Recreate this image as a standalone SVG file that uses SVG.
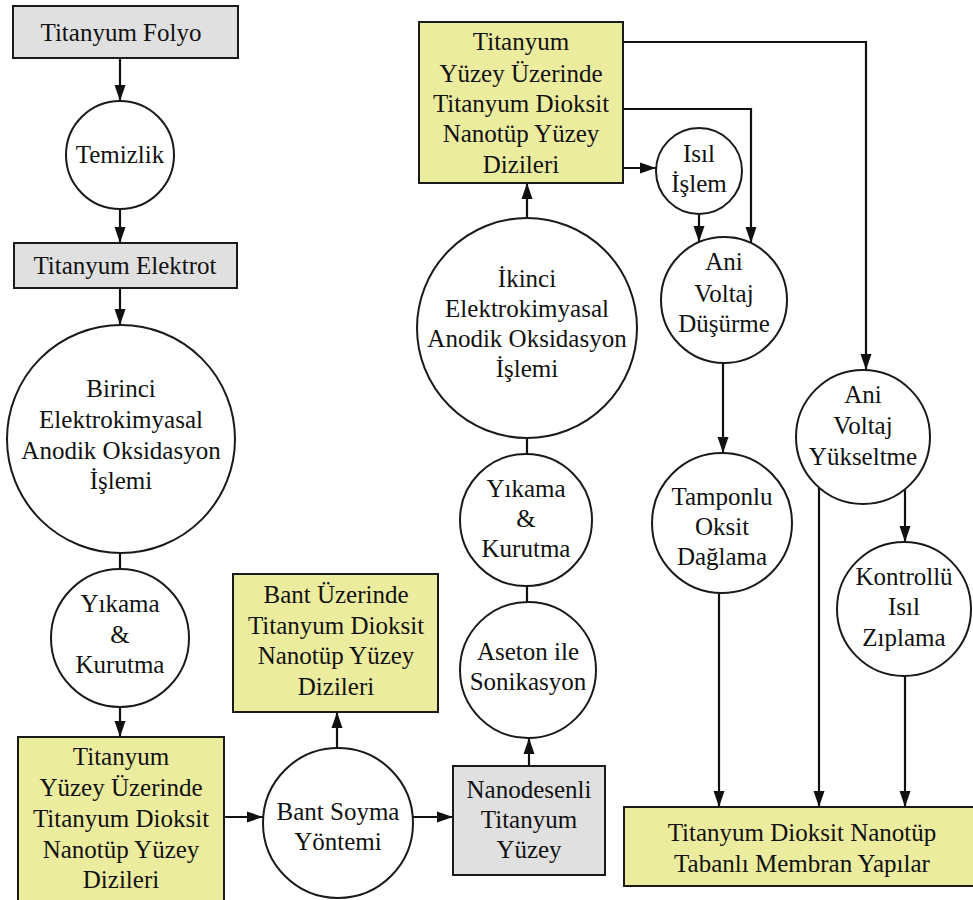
<svg xmlns="http://www.w3.org/2000/svg" width="973" height="900" viewBox="0 0 973 900">
<style>
  .gray{fill:#e0e0e0;stroke:#1a1a1a;stroke-width:2}
  .yel{fill:#ecec9e;stroke:#1a1a1a;stroke-width:2}
  .circ{fill:#ffffff;stroke:#1a1a1a;stroke-width:2}
  text{font-family:"Liberation Serif",Tinos,"Nimbus Roman","Nimbus Roman No9 L",FreeSerif,"Noto Serif","DejaVu Serif",Times,"Times New Roman",serif;font-size:25px;fill:#111;text-anchor:middle}
  .con{fill:none;stroke:#111;stroke-width:2.2}
</style>
<defs>
  <marker id="ah" markerUnits="userSpaceOnUse" markerWidth="16" markerHeight="12" refX="16" refY="6" orient="auto">
    <path d="M0,0.5 L16,6 L0,11.5 z" fill="#111"/>
  </marker>
</defs>
<rect width="973" height="900" fill="#ffffff"/>

<g id="connectors">
  <path class="con" d="M120,58 V101" marker-end="url(#ah)"/>
  <path class="con" d="M120,209 V243" marker-end="url(#ah)"/>
  <path class="con" d="M120,288 V325" marker-end="url(#ah)"/>
  <path class="con" d="M120,553 V569"/>
  <path class="con" d="M120,707 V737" marker-end="url(#ah)"/>
  <path class="con" d="M224,817 H263" marker-end="url(#ah)"/>
  <path class="con" d="M413,817 H453" marker-end="url(#ah)"/>
  <path class="con" d="M337,748 V712" marker-end="url(#ah)"/>
  <path class="con" d="M529,766 V738" marker-end="url(#ah)"/>
  <path class="con" d="M527,602 V586"/>
  <path class="con" d="M527,454 V438"/>
  <path class="con" d="M527,218 V183" marker-end="url(#ah)"/>
  <path class="con" d="M623,168 H656" marker-end="url(#ah)"/>
  <path class="con" d="M623,109 H751 V243" marker-end="url(#ah)"/>
  <path class="con" d="M623,42 H866 V370" marker-end="url(#ah)"/>
  <path class="con" d="M699,214 V242" marker-end="url(#ah)"/>
  <path class="con" d="M723,363 V453" marker-end="url(#ah)"/>
  <path class="con" d="M719,593 V807" marker-end="url(#ah)"/>
  <path class="con" d="M819,488 V807" marker-end="url(#ah)"/>
  <path class="con" d="M905,490 V542" marker-end="url(#ah)"/>
  <path class="con" d="M905,676 V807" marker-end="url(#ah)"/>
</g>

<g id="titanyum-folyo">
  <rect class="gray" x="13" y="6" width="225" height="52"/>
  <text x="121" y="41">Titanyum Folyo</text>
</g>
<g id="temizlik">
  <circle class="circ" cx="120" cy="155" r="54"/>
  <text x="120" y="163">Temizlik</text>
</g>
<g id="titanyum-elektrot">
  <rect class="gray" x="14" y="243" width="223" height="45"/>
  <text x="125" y="274">Titanyum Elektrot</text>
</g>
<g id="birinci">
  <circle class="circ" cx="121" cy="439" r="114"/>
  <text x="121" y="397">Birinci</text>
  <text x="121" y="428">Elektrokimyasal</text>
  <text x="121" y="459">Anodik Oksidasyon</text>
  <text x="121" y="489">İşlemi</text>
</g>
<g id="yikama1">
  <circle class="circ" cx="120" cy="638" r="69"/>
  <text x="120" y="612">Yıkama</text>
  <text x="120" y="643">&amp;</text>
  <text x="120" y="673">Kurutma</text>
</g>
<g id="ti-yuzey-1">
  <rect class="yel" x="18" y="737" width="206" height="166"/>
  <text x="121" y="765">Titanyum</text>
  <text x="121" y="796">Yüzey Üzerinde</text>
  <text x="121" y="827">Titanyum Dioksit</text>
  <text x="121" y="858">Nanotüp Yüzey</text>
  <text x="121" y="888">Dizileri</text>
</g>
<g id="bant-uzerinde">
  <rect class="yel" x="233" y="574" width="205" height="138"/>
  <text x="336" y="603">Bant Üzerinde</text>
  <text x="336" y="634">Titanyum Dioksit</text>
  <text x="336" y="664">Nanotüp Yüzey</text>
  <text x="336" y="695">Dizileri</text>
</g>
<g id="bant-soyma">
  <circle class="circ" cx="338" cy="823" r="75"/>
  <text x="338" y="820">Bant Soyma</text>
  <text x="338" y="850">Yöntemi</text>
</g>
<g id="nanodesenli">
  <rect class="gray" x="453" y="766" width="152" height="109"/>
  <text x="529" y="798">Nanodesenli</text>
  <text x="529" y="828">Titanyum</text>
  <text x="529" y="858">Yüzey</text>
</g>
<g id="aseton">
  <circle class="circ" cx="528" cy="670" r="68"/>
  <text x="528" y="660">Aseton ile</text>
  <text x="528" y="690">Sonikasyon</text>
</g>
<g id="yikama2">
  <circle class="circ" cx="526" cy="520" r="66"/>
  <text x="526" y="497">Yıkama</text>
  <text x="526" y="527">&amp;</text>
  <text x="526" y="557">Kurutma</text>
</g>
<g id="ikinci">
  <circle class="circ" cx="527" cy="328" r="110"/>
  <text x="527" y="287">İkinci</text>
  <text x="527" y="317">Elektrokimyasal</text>
  <text x="527" y="347">Anodik Oksidasyon</text>
  <text x="527" y="377">İşlemi</text>
</g>
<g id="ti-yuzey-2">
  <rect class="yel" x="419" y="22" width="204" height="161"/>
  <text x="521" y="50">Titanyum</text>
  <text x="521" y="82">Yüzey Üzerinde</text>
  <text x="521" y="112">Titanyum Dioksit</text>
  <text x="521" y="142">Nanotüp Yüzey</text>
  <text x="521" y="173">Dizileri</text>
</g>
<g id="isil-islem">
  <circle class="circ" cx="699" cy="171" r="43"/>
  <text x="699" y="162">Isıl</text>
  <text x="699" y="192">İşlem</text>
</g>
<g id="ani-dusurme">
  <circle class="circ" cx="724" cy="300" r="63"/>
  <text x="724" y="270">Ani</text>
  <text x="724" y="302">Voltaj</text>
  <text x="724" y="332">Düşürme</text>
</g>
<g id="tamponlu">
  <circle class="circ" cx="722" cy="523" r="70"/>
  <text x="722" y="505">Tamponlu</text>
  <text x="722" y="535">Oksit</text>
  <text x="722" y="565">Dağlama</text>
</g>
<g id="ani-yukseltme">
  <circle class="circ" cx="863" cy="437" r="67"/>
  <text x="863" y="403">Ani</text>
  <text x="863" y="434">Voltaj</text>
  <text x="863" y="465">Yükseltme</text>
</g>
<g id="kontrollu">
  <circle class="circ" cx="904" cy="609" r="67"/>
  <text x="904" y="585">Kontrollü</text>
  <text x="904" y="615">Isıl</text>
  <text x="904" y="646">Zıplama</text>
</g>
<g id="membran">
  <rect class="yel" x="624" y="807" width="360" height="79"/>
  <text x="802" y="841">Titanyum Dioksit Nanotüp</text>
  <text x="802" y="872">Tabanlı Membran Yapılar</text>
</g>
</svg>
